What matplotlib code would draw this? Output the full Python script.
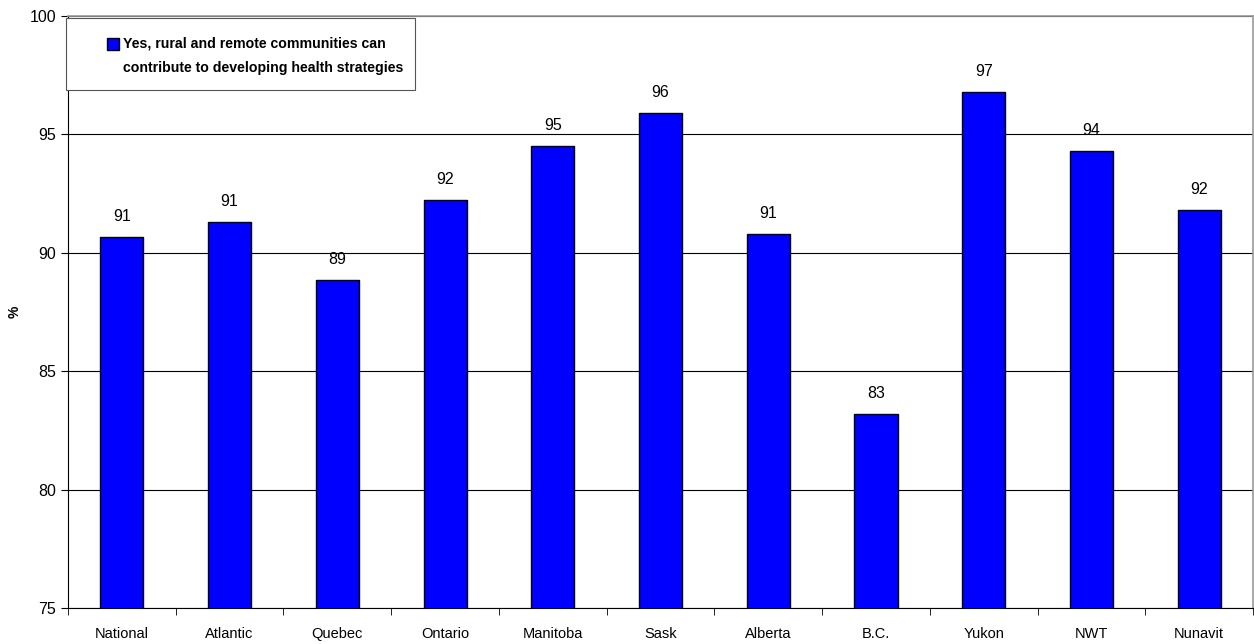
import matplotlib
matplotlib.use("Agg")
import matplotlib.pyplot as plt
from matplotlib.patches import Rectangle
from matplotlib.legend_handler import HandlerPatch
import numpy as np

plt.rcParams['font.family'] = ['Liberation Sans', 'DejaVu Sans']

regions = ["National", "Atlantic", "Quebec", "Ontario", "Manitoba", "Sask",
           "Alberta", "B.C.", "Yukon", "NWT", "Nunavit"]
yes_pct = [90.67, 91.3, 88.85, 92.23, 94.51, 95.9, 90.79, 83.19, 96.79, 94.3, 91.81]
series_name = "Yes, rural and remote communities can\ncontribute to developing health strategies"

W, H = 1254, 644
fig = plt.figure(figsize=(W/100, H/100), dpi=100)
x0, x1, y0, y1 = 68, 1253, 16, 608
ax = fig.add_axes([x0/W, 1-y1/H, (x1-x0)/W, (y1-y0)/H])

x = np.arange(len(regions))
bars = ax.bar(x, yes_pct, width=0.4, color='#0000FF', edgecolor='black', linewidth=1.0,
              label=series_name, zorder=3)

for xi, v in zip(x, yes_pct):
    ax.text(xi, v + 0.55, f"{round(v):.0f}", ha='center', va='bottom', fontsize=11.5)

ax.set_xlim(-0.5, len(regions) - 0.5)
ax.set_ylim(75, 100)
ax.set_yticks([75, 80, 85, 90, 95, 100])
ax.tick_params(axis='y', labelsize=11.5, direction='out', length=5)
ax.set_xticks(x)
ax.set_xticklabels(regions, fontsize=10.5)
ax.tick_params(axis='x', length=0, pad=14)
ax.set_xticks(np.arange(len(regions) + 1) - 0.5, minor=True)
ax.tick_params(axis='x', which='minor', length=5, direction='out')
ax.yaxis.grid(True, color='black', linewidth=0.8, zorder=0)
ax.set_ylabel("%", fontsize=10, fontweight='bold')
ax.yaxis.set_label_coords((22 - x0) / (x1 - x0), 0.5)

for s in ['top', 'right']:
    ax.spines[s].set_color('#999999')
    ax.spines[s].set_linewidth(1.2)
for s in ['left', 'bottom']:
    ax.spines[s].set_color('black')

# legend box drawn as its own frame, legend entry placed inside it
def to_ax(px, py):
    return (px - x0) / (x1 - x0), 1 - (py - y0) / (y1 - y0)

bx0, by0 = to_ax(66, 90)
bx1, by1 = to_ax(415, 18)
ax.add_patch(Rectangle((bx0, by0), bx1 - bx0, by1 - by0, transform=ax.transAxes,
                       facecolor='white', edgecolor='#555555', linewidth=0.8,
                       zorder=5, clip_on=False))

# square sits next to the first line of the label, like the original
def top_square(legend, orig_handle, xdescent, ydescent, width, height, fontsize):
    return Rectangle((-xdescent, -ydescent + 9), width, height)

lx, ly = to_ax(107, 56)
leg = ax.legend(loc='center left', bbox_to_anchor=(lx, ly), frameon=False,
                prop={'weight': 'bold', 'size': 10.2},
                handlelength=0.85, handleheight=0.85, handletextpad=0.25,
                borderpad=0, borderaxespad=0,
                handler_map={bars.patches[0]: HandlerPatch(patch_func=top_square)},
                handles=[bars.patches[0]], labels=[series_name])
leg.set_zorder(6)
for t in leg.get_texts():
    t.set_linespacing(1.95)

fig.savefig("out.png", dpi=100)
